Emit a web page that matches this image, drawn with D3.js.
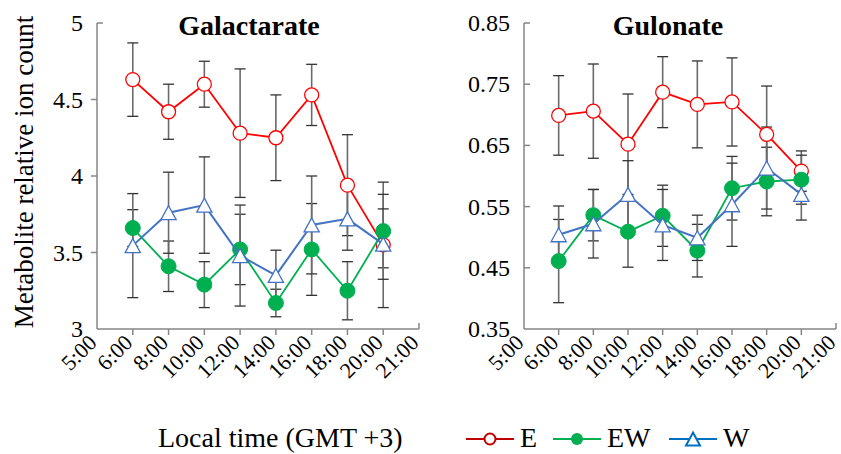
<!DOCTYPE html>
<html><head><meta charset="utf-8">
<script src="https://cdn.jsdelivr.net/npm/d3@7"></script>
<style>html,body{margin:0;padding:0;background:#fff;}svg{display:block;}text{font-family:"Liberation Serif","Times New Roman",serif;}</style>
</head><body>
<svg id="chart" width="841" height="454"></svg>
<script>
// ---- data ----
const times = ["6:00","8:00","10:00","12:00","14:00","16:00","18:00","20:00"];
const axisLabels = ["5:00","6:00","8:00","10:00","12:00","14:00","16:00","18:00","20:00","21:00"];
const seriesNames = ["E","EW","W"];

const galE      = [4.63, 4.42, 4.60, 4.28, 4.25, 4.53, 3.94, 3.55];
const galEErr   = [0.24, 0.18, 0.15, 0.42, 0.28, 0.20, 0.33, 0.41];
const galEW     = [3.66, 3.41, 3.29, 3.52, 3.17, 3.52, 3.25, 3.64];
const galEWErr  = [0.12, 0.165, 0.15, 0.23, 0.09, 0.30, 0.19, 0.24];
const galW      = [3.545, 3.76, 3.81, 3.48, 3.35, 3.68, 3.72, 3.555];
const galWErr   = [0.34, 0.265, 0.315, 0.33, 0.165, 0.32, 0.205, 0.23];
const galTicks  = [3, 3.5, 4, 4.5, 5];
const galTickLabels = ["3","3.5","4","4.5","5"];

const gulE      = [0.699, 0.706, 0.652, 0.737, 0.717, 0.721, 0.668, 0.608];
const gulEErr   = [0.065, 0.077, 0.082, 0.058, 0.071, 0.072, 0.079, 0.033];
const gulEW     = [0.461, 0.536, 0.509, 0.535, 0.478, 0.580, 0.591, 0.594];
const gulEWErr  = [0.068, 0.042, 0.058, 0.050, 0.043, 0.052, 0.056, 0.040];
const gulW      = [0.504, 0.522, 0.570, 0.520, 0.499, 0.553, 0.613, 0.570];
const gulWErr   = [0.047, 0.056, 0.055, 0.058, 0.037, 0.068, 0.067, 0.042];
const gulTicks  = [0.35, 0.45, 0.55, 0.65, 0.75, 0.85];
const gulTickLabels = ["0.35","0.45","0.55","0.65","0.75","0.85"];

// ---- styles ----
const colors = {E:"#FF0000", EW:"#00B050", W:"#4472C4"};
const legendColors = {E:"#C00000", EW:"#00B050", W:"#0070C0"};
const FONT = "Liberation Serif";

const svg = d3.select("#chart");

function triPath(hw, hh){ return `M0,${-hh}L${hw},${hh}L${-hw},${hh}Z`; }

function panel(cfg){
  const g = svg.append("g");
  const x = d3.scalePoint().domain(axisLabels).range([cfg.x0, cfg.x1]);
  const y = d3.scaleLinear().domain(cfg.domain).range([cfg.yb, cfg.yt]);

  // axes
  const axisCol = "#868686";
  g.append("line").attr("x1",cfg.x0).attr("x2",cfg.x0).attr("y1",cfg.yt).attr("y2",cfg.yb)
    .attr("stroke",axisCol).attr("stroke-width",1.5);
  g.append("line").attr("x1",cfg.x0).attr("x2",cfg.x1).attr("y1",cfg.yb).attr("y2",cfg.yb)
    .attr("stroke",axisCol).attr("stroke-width",1.5);
  // y ticks
  cfg.ticks.forEach((t,i)=>{
    const yy = y(t);
    const dir = (i===cfg.ticks.length-1) ? 1 : cfg.tickDir;
    if (i>0) g.append("line").attr("x1",cfg.x0).attr("x2",cfg.x0 + dir*6).attr("y1",yy).attr("y2",yy)
      .attr("stroke",axisCol).attr("stroke-width",1.5);
    g.append("text").attr("x",cfg.x0-14).attr("y",yy+8).attr("text-anchor","end")
      .attr("font-family",FONT).attr("font-size",24).attr("fill","#000").text(cfg.tickLabels[i]);
  });
  // x ticks
  axisLabels.forEach((lab,i)=>{
    const xx = x(lab);
    if (i>0 && i<axisLabels.length-1)
      g.append("line").attr("x1",xx).attr("x2",xx).attr("y1",cfg.yb).attr("y2",cfg.yb+6)
        .attr("stroke",axisCol).attr("stroke-width",1.5);
    if (i===axisLabels.length-1)
      g.append("line").attr("x1",xx).attr("x2",xx).attr("y1",cfg.yb).attr("y2",cfg.yb-6)
        .attr("stroke",axisCol).attr("stroke-width",1.5);
    g.append("text").attr("transform",`translate(${xx+1},${cfg.yb+15}) rotate(-45)`)
      .attr("text-anchor","end").attr("font-family",FONT).attr("font-size",22).attr("fill","#000").text(lab);
  });
  // title
  g.append("text").attr("x",cfg.titleX).attr("y",35).attr("text-anchor","middle")
    .attr("font-family",FONT).attr("font-size",28).attr("font-weight","bold").text(cfg.title);

  const series = [
    {name:"E", v:cfg.E, e:cfg.EErr},
    {name:"EW", v:cfg.EW, e:cfg.EWErr},
    {name:"W", v:cfg.W, e:cfg.WErr}
  ];
  // error bars
  series.forEach(s=>{
    s.v.forEach((v,i)=>{
      const xx = x(times[i]);
      const y1 = y(v + s.e[i]), y2 = y(v - s.e[i]);
      g.append("line").attr("x1",xx).attr("x2",xx).attr("y1",y1).attr("y2",y2)
        .attr("stroke","#6a6a6a").attr("stroke-width",1.6);
      [y1,y2].forEach(yy=>g.append("line").attr("x1",xx-5.5).attr("x2",xx+5.5).attr("y1",yy).attr("y2",yy)
        .attr("stroke","#333").attr("stroke-width",1.3));
    });
  });
  // lines & markers
  series.forEach(s=>{
    const line = d3.line().x((d,i)=>x(times[i])).y(d=>y(d));
    g.append("path").datum(s.v).attr("d",line).attr("fill","none")
      .attr("stroke",colors[s.name]).attr("stroke-width", s.name==="W"?2:1.8);
    s.v.forEach((v,i)=>{
      const xx = x(times[i]), yy = y(v);
      if (s.name==="E")
        g.append("circle").attr("cx",xx).attr("cy",yy).attr("r",7).attr("fill","#fff")
          .attr("stroke",colors.E).attr("stroke-width",1.3);
      else if (s.name==="EW")
        g.append("circle").attr("cx",xx).attr("cy",yy).attr("r",7.5).attr("fill",colors.EW)
          .attr("stroke",colors.EW).attr("stroke-width",1);
      else
        g.append("path").attr("d",triPath(7.6,7)).attr("transform",`translate(${xx},${yy})`)
          .attr("fill","#fff").attr("stroke",colors.W).attr("stroke-width",1.3);
    });
  });
}

panel({x0:97, x1:419, yt:23, yb:329, domain:[3,5], ticks:galTicks, tickLabels:galTickLabels,
  tickDir:-1, title:"Galactarate", titleX:249,
  E:galE, EErr:galEErr, EW:galEW, EWErr:galEWErr, W:galW, WErr:galWErr});
panel({x0:524, x1:836, yt:23, yb:329, domain:[0.35,0.85], ticks:gulTicks, tickLabels:gulTickLabels,
  tickDir:1, title:"Gulonate", titleX:668,
  E:gulE, EErr:gulEErr, EW:gulEW, EWErr:gulEWErr, W:gulW, WErr:gulWErr});

// y axis title
svg.append("text").attr("transform","translate(33,172) rotate(-90)").attr("text-anchor","middle")
  .attr("font-family",FONT).attr("font-size",27).text("Metabolite relative ion count");

// x axis title
svg.append("text").attr("x",158).attr("y",447).attr("font-family",FONT).attr("font-size",28)
  .text("Local time (GMT +3)");

// legend
const legX = [466, 553, 669];
const legY = 439;
seriesNames.forEach((n,i)=>{
  const lx = legX[i];
  const lg = svg.append("g");
  lg.append("line").attr("x1",lx).attr("x2",lx+48).attr("y1",legY).attr("y2",legY)
    .attr("stroke",legendColors[n]).attr("stroke-width",2);
  if (n==="E") lg.append("circle").attr("cx",lx+24).attr("cy",legY).attr("r",5.5).attr("fill","#fff")
    .attr("stroke",legendColors[n]).attr("stroke-width",2);
  else if (n==="EW") lg.append("circle").attr("cx",lx+24).attr("cy",legY).attr("r",6).attr("fill",legendColors[n]);
  else lg.append("path").attr("d",triPath(7,6.5)).attr("transform",`translate(${lx+24},${legY})`)
    .attr("fill","#fff").attr("stroke",legendColors[n]).attr("stroke-width",2);
  lg.append("text").attr("x",lx+54).attr("y",447).attr("font-family",FONT).attr("font-size",28).text(n);
});
</script>
</body></html>
